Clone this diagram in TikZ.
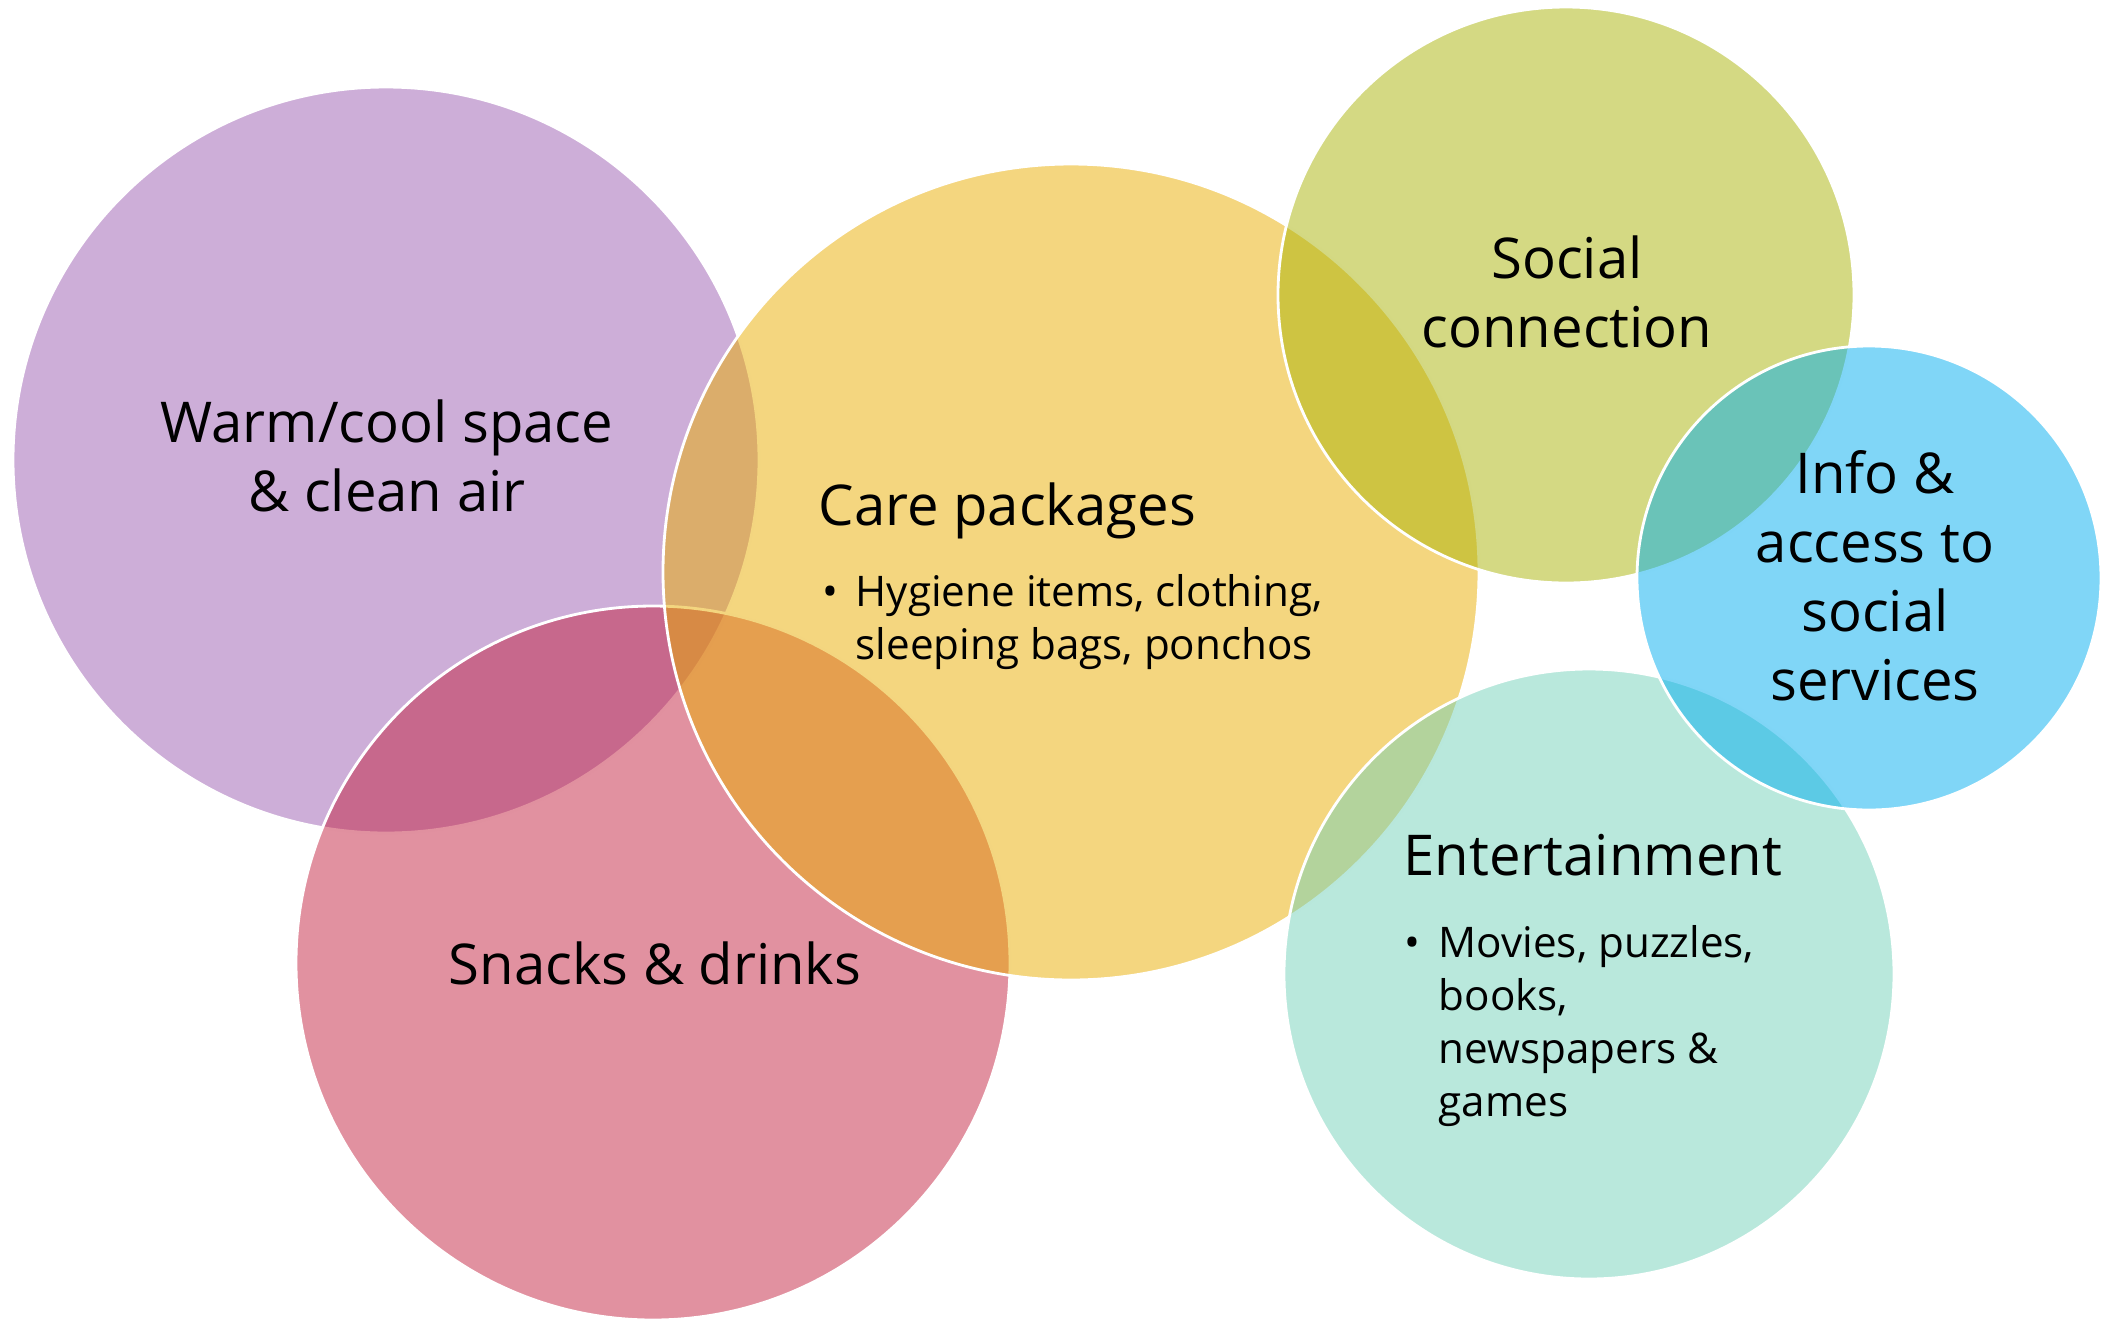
\documentclass[tikz,border=0pt]{standalone}
\usepackage{fontspec}
\setmainfont{Open Sans}
\definecolor{warmcol}{RGB}{155,93,177}
\definecolor{snackcol}{RGB}{195,35,65}
\definecolor{carecol}{RGB}{233,173,0}
\definecolor{socialcol}{RGB}{169,179,7}
\definecolor{funcol}{RGB}{115,209,185}
\definecolor{infocol}{RGB}{1,173,239}
\newcommand{\headsize}{\fontsize{16pt}{19.6pt}\selectfont}
\newcommand{\bodysize}{\fontsize{12pt}{15.1pt}\selectfont}
\begin{document}
\begin{tikzpicture}[x=0.1mm,y=-0.1mm]
        \useasboundingbox (0,0) rectangle (2101,1320);
        \begin{scope}[every node/.style={circle,draw=white,line width=0.8pt,fill opacity=0.5,draw opacity=1,inner sep=0pt}]
          \node[fill=warmcol,minimum size=74.6mm] (warm) at (386,460) {};
          \node[fill=snackcol,minimum size=71.4mm] (snack) at (653,963) {};
          \node[fill=carecol,minimum size=81.6mm] (care) at (1071,572) {};
          \node[fill=socialcol,minimum size=57.6mm] (social) at (1566,295) {};
          \node[fill=funcol,minimum size=61mm] (fun) at (1589,974) {};
          \node[fill=infocol,minimum size=46.4mm] (info) at (1869,578) {};
        \end{scope}
        \begin{scope}[every node/.style={inner sep=0pt,align=center,font=\headsize}]
          \node (warmtxt) at (387,456) {Warm/cool space\\\& clean air};
          \node (snacktxt) at (655,963) {Snacks \& drinks};
          \node (socialtxt) at (1567,292) {Social\\connection};
          \node (infotxt) at (1875,576) {Info \&\\access to\\social\\services};
          \node[anchor=base west] (caretxt) at (818,525) {Care packages};
          \node[anchor=base west] (funtxt) at (1403,875) {Entertainment};
        \end{scope}
        \begin{scope}[every node/.style={inner sep=0pt,align=left,font=\bodysize}]
          \node[anchor=base west] (carebul) at (822,606) {\textbullet};
          \node[anchor=north west] (careitems) at (855,574) {Hygiene items, clothing,\\sleeping bags, ponchos};
          \node[anchor=base west] (funbul) at (1404,957) {\textbullet};
          \node[anchor=north west] (funitems) at (1438,925) {Movies, puzzles,\\books,\\newspapers \&\\games};
        \end{scope}
      \end{tikzpicture}
\end{document}
